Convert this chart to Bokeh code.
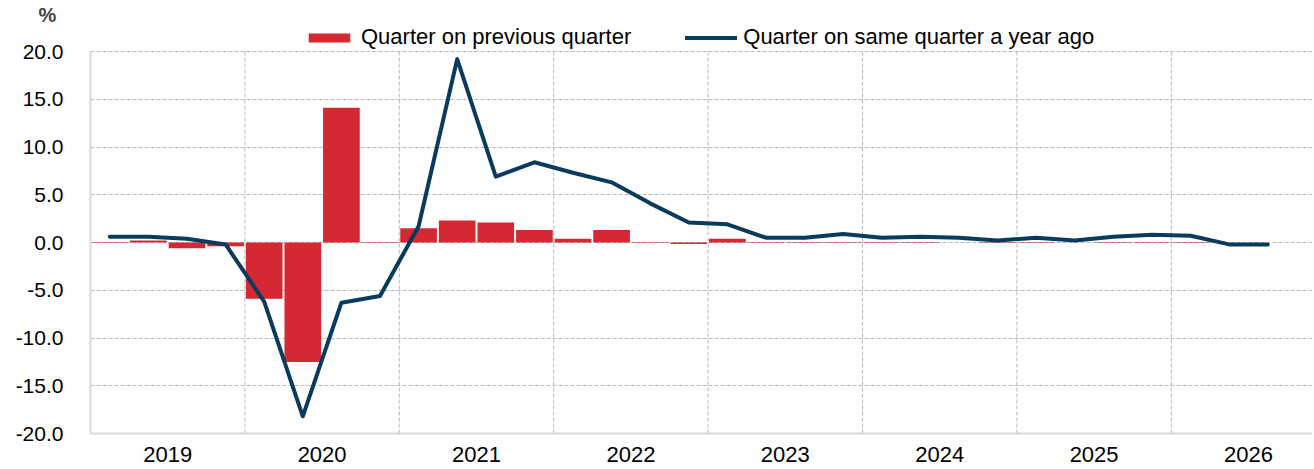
from bokeh.plotting import figure
from bokeh.models import (Range1d, FixedTicker, NumeralTickFormatter, Legend, LegendItem,
                          ColumnDataSource, Title)
from bokeh.embed import file_html
from bokeh.resources import INLINE

years = ["2019", "2020", "2021", "2022", "2023", "2024", "2025", "2026"]
quarters = [f"{y} Q{q}" for y in years for q in range(1, 5)][:31]

qoq = [0.05, 0.2, -0.6, -0.4, -5.9, -12.5, 14.1, 0.05,
       1.5, 2.3, 2.1, 1.3, 0.4, 1.3, 0.05, -0.15,
       0.4, 0.05, 0.05, 0.05, 0.05, 0.05, 0.0, 0.05,
       0.05, 0.0, 0.05, 0.05, 0.05, 0.0, 0.0]

yoy = [0.6, 0.6, 0.4, -0.2, -6.2, -18.2, -6.3, -5.6,
       1.7, 19.2, 6.9, 8.4, 7.3, 6.3, 4.1, 2.1,
       1.9, 0.5, 0.5, 0.9, 0.5, 0.6, 0.5, 0.2,
       0.5, 0.2, 0.6, 0.8, 0.7, -0.2, -0.2]

y_ticks = [-20, -15, -10, -5, 0, 5, 10, 15, 20]

RED = "#D42832"
NAVY = "#083B5C"
GRID = "#BABABA"
AXIS = "#D9D9D9"
FONT = "Liberation Sans"

W, H = 1312, 469
LEFT, TOP, BOTTOM = 90, 25, 36          # page pixels around the plotting frame
PX_PER_Q = 38.6                          # pixels per quarter
PX_PER_UNIT = 9.55                       # pixels per percentage point

frame_h = H - TOP - BOTTOM
y_lo = y_ticks[0]
y_hi = y_lo + frame_h / PX_PER_UNIT      # room above 20 for the legend
x_hi = (W - LEFT) / PX_PER_Q

xpos = [i + 0.5 for i in range(len(quarters))]
src = ColumnDataSource(dict(x=xpos, q=quarters, qoq=qoq, yoy=yoy))

p = figure(width=W, height=H, output_backend="svg", toolbar_location=None,
           x_range=Range1d(0, x_hi), y_range=Range1d(y_lo, y_hi),
           min_border_left=LEFT, min_border_right=0, min_border_bottom=BOTTOM,
           min_border_top=TOP)
p.outline_line_color = None
p.background_fill_color = "white"

# year separators (dashed), limited to the value range
bounds = [4 * k for k in range(1, len(years))]
p.segment(x0=bounds, y0=[y_ticks[0]] * len(bounds), x1=bounds, y1=[y_ticks[-1]] * len(bounds),
          line_color=GRID, line_dash="4 2", line_width=1)

bars = p.vbar(x="x", top="qoq", width=0.95, bottom=0, source=src,
              fill_color=RED, line_color=None)
line = p.line(x="x", y="yoy", source=src, line_color=NAVY, line_width=4,
              line_join="round", line_cap="round")

# axes
p.yaxis.ticker = FixedTicker(ticks=y_ticks)
p.yaxis.bounds = (y_ticks[0], y_ticks[-1])
p.yaxis.formatter = NumeralTickFormatter(format="0.0")
p.yaxis.major_label_text_font = FONT
p.yaxis.major_label_text_font_size = "21px"
p.yaxis.major_label_text_color = "#000000"
p.yaxis.major_tick_line_color = None
p.yaxis.minor_tick_line_color = None
p.yaxis.axis_line_color = AXIS
p.yaxis.axis_line_width = 2
p.yaxis.major_label_standoff = 21

year_centers = [4 * k + 2 for k in range(len(years))]
p.xaxis.ticker = FixedTicker(ticks=year_centers)
p.xaxis.major_label_overrides = {c: y for c, y in zip(year_centers, years)}
p.xaxis.major_label_text_font = FONT
p.xaxis.major_label_text_font_size = "22px"
p.xaxis.major_label_text_color = "#000000"
p.xaxis.major_tick_line_color = None
p.xaxis.minor_tick_line_color = None
p.xaxis.axis_line_color = AXIS
p.xaxis.axis_line_width = 2
p.xaxis.major_label_standoff = 7

p.xgrid.visible = False
p.ygrid.ticker = FixedTicker(ticks=y_ticks[1:])
p.ygrid.grid_line_color = GRID
p.ygrid.grid_line_dash = "4 2"
p.ygrid.grid_line_width = 1

legend = Legend(items=[LegendItem(label="Quarter on previous quarter", renderers=[bars]),
                       LegendItem(label="Quarter on same quarter a year ago", renderers=[line])],
                orientation="horizontal", location=(213, 383),
                label_text_font=FONT, label_text_font_size="22px", label_text_color="#000000",
                label_text_line_height=1.0, label_height=20,
                glyph_width=52, glyph_height=11, label_standoff=6, spacing=54,
                padding=0, margin=0, border_line_color=None, background_fill_alpha=0)
p.add_layout(legend, "center")

p.title = Title(text="%", align="left", offset=-52, text_font=FONT,
                text_font_size="20px", text_font_style="bold", standoff=0)

open("out.html", "w").write(file_html(p, INLINE))
